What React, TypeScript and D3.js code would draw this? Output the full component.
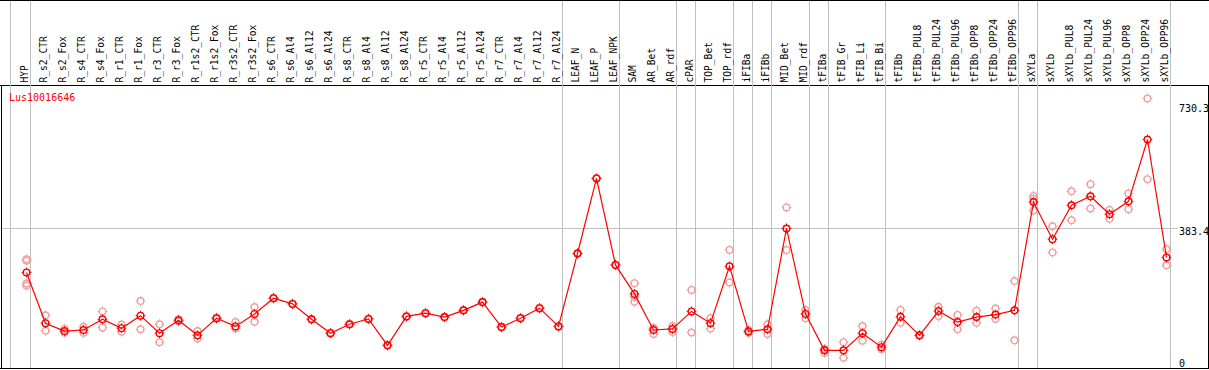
import { useEffect, useRef } from 'react'
import * as d3 from 'd3'

const columns = [
    "HYP", "R_s2_CTR", "R_s2_Fox", "R_s4_CTR", "R_s4_Fox", "R_r1_CTR", "R_r1_Fox", "R_r3_CTR", "R_r3_Fox",
    "R_r1s2_CTR", "R_r1s2_Fox", "R_r3s2_CTR", "R_r3s2_Fox", "R_s6_CTR", "R_s6_Al4", "R_s6_Al12", "R_s6_Al24",
    "R_s8_CTR", "R_s8_Al4", "R_s8_Al12", "R_s8_Al24", "R_r5_CTR", "R_r5_Al4", "R_r5_Al12", "R_r5_Al24",
    "R_r7_CTR", "R_r7_Al4", "R_r7_Al12", "R_r7_Al24", "LEAF_N", "LEAF_P", "LEAF_NPK", "SAM", "AR_Bet", "AR_rdf",
    "cPAR", "TOP_Bet", "TOP_rdf", "iFIBa", "iFIBb", "MID_Bet", "MID_rdf", "tFIBa", "tFIB_Gr", "tFIB_Li", "tFIB_Bi",
    "tFIBb", "tFIBb_PUL8", "tFIBb_PUL24", "tFIBb_PUL96", "tFIBb_OPP8", "tFIBb_OPP24", "tFIBb_OPP96",
    "sXYLa", "sXYLb", "sXYLb_PUL8", "sXYLb_PUL24", "sXYLb_PUL96", "sXYLb_OPP8", "sXYLb_OPP24", "sXYLb_OPP96"
]

// last column of each group (a separator is drawn after it)
const groupEnds = [
    "HYP", "R_r7_Al24", "LEAF_NPK", "AR_rdf", "cPAR", "TOP_rdf", "iFIBa", "iFIBb",
    "MID_rdf", "tFIBa", "tFIB_Bi", "tFIBb_OPP96", "sXYLa", "sXYLb_OPP96"
]

const geneName = "Lus10016646"

const meanValues = [
    259, 117, 95, 98, 128, 103, 138, 89, 125,
    83, 131, 108, 143, 187, 171, 128, 89,
    114, 129, 55, 136, 145, 134, 153, 176,
    106, 131, 159, 108, 312, 522, 280, 199, 98, 101,
    150, 117, 276, 94, 100, 382, 143, 41, 41, 89, 50,
    135, 83, 151, 120, 134, 141, 153,
    456, 352, 447, 472, 422, 458, 631, 301
]

const replicateValues = [
    [296, 292, 228, 222], [139, 96], [101, 90], [107, 90], [150, 105], [113, 93], [179, 100], [114, 64], [128, 122],
    [95, 74], [133, 129], [120, 102], [162, 121], [188, 186], [172, 170], [129, 127], [90, 88],
    [115, 113], [130, 128], [56, 54], [137, 135], [146, 144], [135, 133], [154, 152], [177, 175],
    [107, 105], [132, 130], [160, 158], [109, 107], [313, 312], [523, 522], [281, 279], [229, 190, 177], [103, 87, 104], [109, 92, 101],
    [210, 91], [131, 102], [322, 231], [98, 90], [114, 87], [441, 322], [154, 131], [34, 45, 44], [64, 20], [109, 68], [57, 44],
    [154, 118], [84, 82], [163, 137], [140, 100], [152, 118], [158, 129], [235, 69],
    [473, 465, 432], [388, 315], [486, 405], [506, 438], [434, 409], [480, 436], [746, 520], [324, 279]
]

const axisTicks = [730.3, 383.4, 0]
const gridTicks = [383.4]

function App() {
    const ref = useRef<SVGSVGElement>(null)

    useEffect(() => {
        const width = 1209
        const height = 370
        const headerBottom = 85
        const plotBottom = 368

        const svg = d3.select(ref.current)
        svg.selectAll("*").remove()

        const xScale = d3
            .scaleBand()
            .domain(columns)
            .range([11.5, 1170.5])

        const yScale = d3
            .scaleLinear()
            .domain([0, 730.3])
            .range([365, 104])

        const px = (c: string) => (xScale(c) as number) + 15

        // frame
        const frame = svg.append("g").attr("stroke", "black").attr("stroke-width", 1).attr("shape-rendering", "crispEdges")
        frame.append("line").attr("x1", 0).attr("x2", width).attr("y1", 0.5).attr("y2", 0.5)
        frame.append("line").attr("x1", 0).attr("x2", width).attr("y1", headerBottom + 0.5).attr("y2", headerBottom + 0.5)
        frame.append("line").attr("x1", 0).attr("x2", width).attr("y1", plotBottom + 0.5).attr("y2", plotBottom + 0.5)
        frame.append("line").attr("x1", 1.5).attr("x2", 1.5).attr("y1", headerBottom).attr("y2", plotBottom)
        frame.append("line").attr("x1", width - 0.5).attr("x2", width - 0.5).attr("y1", headerBottom).attr("y2", plotBottom)

        // group separators
        const seps = svg.append("g").attr("stroke", "#c0c0c0").attr("shape-rendering", "crispEdges")
        seps.append("line")
            .attr("x1", (xScale(columns[0]) as number) - 1)
            .attr("x2", (xScale(columns[0]) as number) - 1)
            .attr("y1", 1).attr("y2", plotBottom)
        seps.selectAll("line.sep")
            .data(groupEnds)
            .enter()
            .append("line")
            .attr("class", "sep")
            .attr("x1", d => (xScale(d) as number) + xScale.bandwidth())
            .attr("x2", d => (xScale(d) as number) + xScale.bandwidth())
            .attr("y1", 1)
            .attr("y2", plotBottom)

        // horizontal grid
        svg.append("g")
            .selectAll("line")
            .data(gridTicks)
            .enter()
            .append("line")
            .attr("x1", 2)
            .attr("x2", 1178)
            .attr("y1", d => Math.round(yScale(d)) + 0.5)
            .attr("y2", d => Math.round(yScale(d)) + 0.5)
            .attr("stroke", "#c0c0c0")
            .attr("shape-rendering", "crispEdges")

        // value labels on the right
        svg.append("g")
            .selectAll("text")
            .data(axisTicks)
            .enter()
            .append("text")
            .attr("x", 1179)
            .attr("y", d => Math.min(yScale(d) + 7.5, 366.5))
            .attr("font-family", "DejaVu Sans Mono")
            .attr("font-size", 10)
            .attr("fill", "black")
            .text(d => String(d))

        // column labels
        svg.append("g")
            .selectAll("text")
            .data(columns)
            .enter()
            .append("text")
            .attr("transform", d => `translate(${(xScale(d) as number) + 16.5}, 82.5) rotate(-90)`)
            .attr("font-family", "DejaVu Sans Mono")
            .attr("font-size", 9.6)
            .attr("fill", "black")
            .text(d => d)

        svg.append("text")
            .attr("x", 9)
            .attr("y", 101)
            .attr("font-family", "DejaVu Sans Mono")
            .attr("font-size", 10)
            .attr("fill", "red")
            .text(geneName)

        const marker = (g: d3.Selection<SVGGElement, unknown, null, undefined>, x: number, y: number, color: string) => {
            const r = 3.3
            g.append("circle")
                .attr("cx", x).attr("cy", y).attr("r", r)
                .attr("fill", "none").attr("stroke", color).attr("stroke-width", 1.4)
            const ticks: [number, number][] = [[0, -1], [0, 1], [-1, 0], [1, 0]]
            ticks.forEach(([dx, dy]) => {
                g.append("line")
                    .attr("x1", x + dx * r).attr("y1", y + dy * r)
                    .attr("x2", x + dx * (r + 1.6)).attr("y2", y + dy * (r + 1.6))
                    .attr("stroke", color).attr("stroke-width", 1)
            })
        }

        // replicates
        const reps = svg.append("g")
        columns.forEach((c, i) => {
            replicateValues[i].forEach(v => marker(reps, px(c), yScale(v), "#f0a0a0"))
        })

        // mean line
        const path = d3
            .line<number>()
            .x((_, i) => px(columns[i]))
            .y(d => yScale(d))

        svg.append("path")
            .datum(meanValues)
            .attr("d", path)
            .attr("fill", "none")
            .attr("stroke", "red")
            .attr("stroke-width", 1.2)

        const means = svg.append("g")
        columns.forEach((c, i) => marker(means, px(c), yScale(meanValues[i]), "red"))
    }, [])

    return (
        <svg
            ref={ref}
            width={1209}
            height={370}
            style={{ position: 'fixed', left: 0, top: 0, background: 'white' }}
        />
    )
}

export default App
